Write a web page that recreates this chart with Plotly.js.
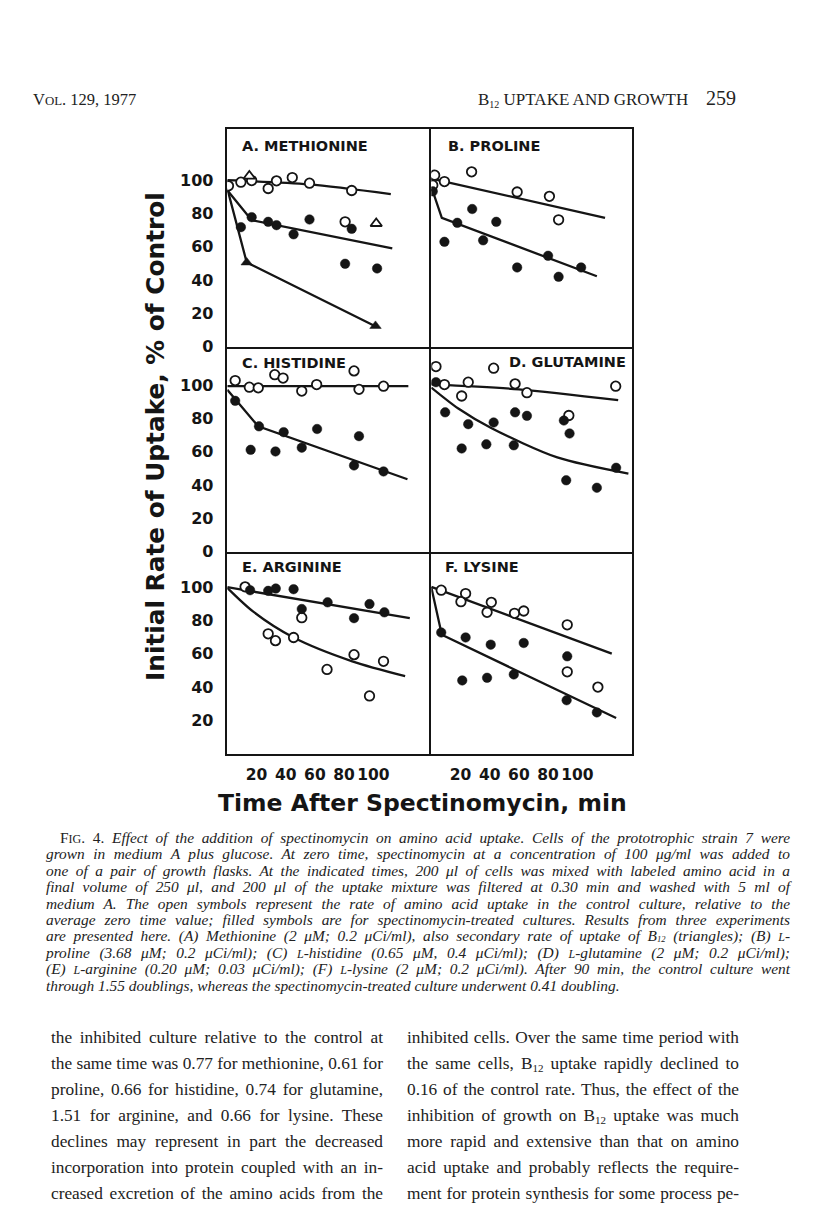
<!DOCTYPE html>
<html><head><meta charset="utf-8">
<script src="https://cdn.plot.ly/plotly-3.0.1.min.js"></script>
<style>
html,body{margin:0;padding:0;background:#fff;}
#page{position:relative;width:816px;height:1222px;overflow:hidden;background:#fff;}
#chart{position:absolute;left:0;top:0;width:816px;height:1222px;}
.hdr{position:absolute;font-family:"Liberation Serif",serif;color:#222;white-space:nowrap;line-height:20px;}
sub{line-height:0;vertical-align:-0.3em;}
#caption sub{vertical-align:-0.12em;}
#caption{position:absolute;left:46px;top:830px;width:744px;font-family:"Liberation Serif",serif;font-style:italic;font-size:15.4px;color:#222;}
#caption .ln{height:16.4px;line-height:16.4px;text-align:justify;text-align-last:justify;overflow:visible;}
#caption .ln.first{padding-left:14px;}
#caption .ln.last{text-align-last:left;}
.col{position:absolute;top:1025px;width:332px;font-family:"Liberation Serif",serif;font-size:17.3px;color:#222;}
.col .ln{height:26px;line-height:26px;text-align:justify;text-align-last:justify;}
.sc{font-size:0.78em;}
.up{font-style:normal;}
</style>
</head><body>
<div id="page">
<div id="chart"></div>
<div class="hdr" style="left:33px;top:90px;font-size:16.5px;">V<span class="sc">OL</span>. 129, 1977</div>
<div class="hdr" style="left:478px;top:90px;font-size:17px;">B<sub style="font-size:10px">12</sub> UPTAKE AND GROWTH</div>
<div class="hdr" style="left:706px;top:88px;font-size:20px;">259</div>
<div id="caption">
<div class="ln first"><span class="up">F<span class="sc">IG</span>. 4.</span> Effect of the addition of spectinomycin on amino acid uptake. Cells of the prototrophic strain 7 were</div>
<div class="ln">grown in medium A plus glucose. At zero time, spectinomycin at a concentration of 100 μg/ml was added to</div>
<div class="ln">one of a pair of growth flasks. At the indicated times, 200 μl of cells was mixed with labeled amino acid in a</div>
<div class="ln">final volume of 250 μl, and 200 μl of the uptake mixture was filtered at 0.30 min and washed with 5 ml of</div>
<div class="ln">medium A. The open symbols represent the rate of amino acid uptake in the control culture, relative to the</div>
<div class="ln">average zero time value; filled symbols are for spectinomycin-treated cultures. Results from three experiments</div>
<div class="ln">are presented here. (A) Methionine (2 μM; 0.2 μCi/ml), also secondary rate of uptake of B<sub style="font-size:8.5px">12</sub> (triangles); (B) <span class="sc">L</span>-</div>
<div class="ln">proline (3.68 μM; 0.2 μCi/ml); (C) <span class="sc">L</span>-histidine (0.65 μM, 0.4 μCi/ml); (D) <span class="sc">L</span>-glutamine (2 μM; 0.2 μCi/ml);</div>
<div class="ln">(E) <span class="sc">L</span>-arginine (0.20 μM; 0.03 μCi/ml); (F) <span class="sc">L</span>-lysine (2 μM; 0.2 μCi/ml). After 90 min, the control culture went</div>
<div class="ln last">through 1.55 doublings, whereas the spectinomycin-treated culture underwent 0.41 doubling.</div>
</div>
<div class="col" style="left:51px;">
<div class="ln">the inhibited culture relative to the control at</div>
<div class="ln">the same time was 0.77 for methionine, 0.61 for</div>
<div class="ln">proline, 0.66 for histidine, 0.74 for glutamine,</div>
<div class="ln">1.51 for arginine, and 0.66 for lysine. These</div>
<div class="ln">declines may represent in part the decreased</div>
<div class="ln">incorporation into protein coupled with an in-</div>
<div class="ln">creased excretion of the amino acids from the</div>
</div>
<div class="col" style="left:407px;">
<div class="ln">inhibited cells. Over the same time period with</div>
<div class="ln">the same cells, B<sub style="font-size:11px">12</sub> uptake rapidly declined to</div>
<div class="ln">0.16 of the control rate. Thus, the effect of the</div>
<div class="ln">inhibition of growth on B<sub style="font-size:11px">12</sub> uptake was much</div>
<div class="ln">more rapid and extensive than that on amino</div>
<div class="ln">acid uptake and probably reflects the require-</div>
<div class="ln">ment for protein synthesis for some process pe-</div>
</div>
</div>
<script>
// ---------- DATA (time in min, uptake in % of control) ----------
const timeTicks = [20, 40, 60, 80, 100];
const uptakeTicks = [0, 20, 40, 60, 80, 100];
const panelTitles = ["A. METHIONINE", "B. PROLINE", "C. HISTIDINE", "D. GLUTAMINE", "E. ARGININE", "F. LYSINE"];

// A. Methionine
const metControlT = [0.8, 9.3, 16.7, 28, 33.7, 44.5, 56.3, 80.7, 85.2];
const metControlV = [96.6, 98.8, 99.8, 95, 99.6, 101.6, 98.2, 75, 93.8];
const metTreatedT = [9.3, 16.7, 28, 33.7, 45.4, 56.3, 80.7, 85.2, 102.6];
const metTreatedV = [71.8, 77.8, 75, 73, 67.5, 76.4, 49.8, 70.8, 47];
const b12ControlT = [15.1, 102];
const b12ControlV = [102.5, 74];
const b12TreatedT = [13.3, 101.5];
const b12TreatedV = [50.6, 12.5];
const metControlFitT = [0, 56, 112];
const metControlFitV = [100, 97.5, 91.7];
const metTreatedFitT = [0, 16.7, 113];
const metTreatedFitV = [94, 76, 59];
const b12TreatedFitT = [0, 13.3, 100];
const b12TreatedFitV = [95, 50.6, 12.9];

// B. Proline
const proControlT = [1, 2.3, 9, 27.6, 58.8, 80.9, 87.2];
const proControlV = [97, 103, 99.2, 105, 92.9, 90.3, 76.2];
const proTreatedT = [1, 9, 17.8, 28, 35.5, 44.5, 58.8, 80, 87.2, 102.6];
const proTreatedV = [93.3, 63, 74.4, 82.7, 63.9, 75, 47.6, 54.6, 42, 47.6];
const proControlFitT = [0, 119];
const proControlFitV = [101, 77.4];
const proTreatedFitT = [0, 7.2, 113.4];
const proTreatedFitV = [96, 77.4, 42.3];

// C. Histidine
const hisControlT = [5.4, 15.1, 21.2, 32.5, 38.2, 51, 61.2, 86.8, 90.2, 107];
const hisControlV = [102.8, 98.8, 98.4, 106.3, 104.3, 96.5, 100.4, 108.6, 97.5, 99.4];
const hisTreatedT = [5.4, 16, 21.7, 33, 38.6, 51, 61.5, 86.8, 90.2, 107];
const hisTreatedV = [90.6, 61.2, 75.3, 60.2, 71.8, 62.5, 73.7, 51.8, 69.4, 48.2];
const hisControlFitT = [0, 124];
const hisControlFitV = [99.5, 99.5];
const hisTreatedFitT = [0, 21.2, 123.4];
const hisTreatedFitV = [97.2, 75.3, 43.5];

// D. Glutamine
const gluControlT = [3.2, 9, 20.8, 25.3, 42.7, 57.4, 65.5, 94.2, 126.3];
const gluControlV = [111.2, 100.4, 93.5, 101.8, 110.2, 100.8, 95.5, 81.8, 99.4];
const gluTreatedT = [3.2, 9.5, 20.8, 25.3, 37.7, 42.7, 56.5, 57.4, 65.5, 90.8, 94.7, 92.4, 113.4, 126.6];
const gluTreatedV = [101.8, 83.7, 62, 76.6, 64.5, 77.6, 63.9, 83.7, 81.6, 78.8, 71, 42.9, 38.4, 50.4];
const gluControlFitT = [0, 60, 128];
const gluControlFitV = [100.5, 97.5, 91];
const gluTreatedFitT = [0, 18.5, 41, 86.3, 135];
const gluTreatedFitV = [98.6, 86, 74.3, 56.6, 46.9];

// E. Arginine
const argControlT = [12.2, 28, 33, 45.4, 51, 68.3, 86.8, 97.4, 107];
const argControlV = [100.2, 72, 67.9, 69.8, 81.7, 50.6, 59.5, 34.7, 55.5];
const argTreatedT = [15.6, 28, 33.2, 45.4, 51, 68.7, 86.8, 97.4, 107.6];
const argTreatedV = [98.2, 97.8, 99.2, 98.8, 86.9, 90.9, 81.4, 89.9, 84.9];
const argControlFitT = [0, 17.8, 45.4, 85.6, 121.8];
const argControlFitV = [99.6, 85.3, 69.8, 55.5, 46.6];
const argTreatedFitT = [0, 125];
const argTreatedFitV = [100, 81.4];

// F. Lysine
const lysControlT = [6.8, 20.3, 23.5, 38.2, 41.1, 57, 63.3, 93.1, 93.1, 114.1];
const lysControlV = [98.2, 91.3, 96.2, 84.9, 90.9, 84.3, 85.7, 77.4, 49.2, 40];
const lysTreatedT = [6.8, 21.2, 23.5, 38.2, 40.7, 56.5, 63.3, 92.7, 93.1, 113.4];
const lysTreatedV = [72.8, 44, 69.8, 45.6, 65.5, 47.6, 66.5, 32.1, 58.5, 24.8];
const lysControlFitT = [0, 123.6];
const lysControlFitV = [100.2, 60.1];
const lysTreatedFitT = [0, 7.2, 126.6];
const lysTreatedFitV = [100, 71.4, 21.4];

// ---------- LAYOUT GEOMETRY ----------
const W = 816, H = 1222;
const fx = x => x / W, fy = y => 1 - y / H;
const LW = 2.6;                       // frame line width
const colLines = [226, 430, 633];     // vertical frame lines (px)
const rowLines = [128, 348, 553, 755]; // horizontal frame lines (px)
const pxPerUnitY = 1.665;
const pxPerUnitX = 1.46;
const INK = '#151515';

const traces = [];
function fit(t, v, n, shape) {
  traces.push({x: t, y: v, xaxis: 'x' + n, yaxis: 'y' + n, mode: 'lines', hoverinfo: 'skip',
    line: {color: INK, width: 2.3, shape: shape || 'linear', smoothing: 0.8}, showlegend: false});
}
function pts(t, v, n, symbol, open) {
  traces.push({x: t, y: v, xaxis: 'x' + n, yaxis: 'y' + n, mode: 'markers', hoverinfo: 'skip', showlegend: false,
    marker: {symbol: symbol, size: symbol.indexOf('triangle') === 0 ? 10 : 9.5,
      color: open ? '#ffffff' : INK, line: {color: INK, width: open ? 1.8 : 0.5}}});
}
// A
fit(metControlFitT, metControlFitV, 1, 'spline');
fit(metTreatedFitT, metTreatedFitV, 1);
fit(b12TreatedFitT, b12TreatedFitV, 1);
pts(metControlT, metControlV, 1, 'circle', true);
pts(metTreatedT, metTreatedV, 1, 'circle', false);
pts(b12ControlT, b12ControlV, 1, 'triangle-up', true);
pts(b12TreatedT, b12TreatedV, 1, 'triangle-up', false);
// B
fit(proControlFitT, proControlFitV, 2);
fit(proTreatedFitT, proTreatedFitV, 2);
pts(proControlT, proControlV, 2, 'circle', true);
pts(proTreatedT, proTreatedV, 2, 'circle', false);
// C
fit(hisControlFitT, hisControlFitV, 3);
fit(hisTreatedFitT, hisTreatedFitV, 3);
pts(hisControlT, hisControlV, 3, 'circle', true);
pts(hisTreatedT, hisTreatedV, 3, 'circle', false);
// D
fit(gluControlFitT, gluControlFitV, 4, 'spline');
fit(gluTreatedFitT, gluTreatedFitV, 4, 'spline');
pts(gluControlT, gluControlV, 4, 'circle', true);
pts(gluTreatedT, gluTreatedV, 4, 'circle', false);
// E
fit(argTreatedFitT, argTreatedFitV, 5);
fit(argControlFitT, argControlFitV, 5, 'spline');
pts(argControlT, argControlV, 5, 'circle', true);
pts(argTreatedT, argTreatedV, 5, 'circle', false);
// F
fit(lysControlFitT, lysControlFitV, 6);
fit(lysTreatedFitT, lysTreatedFitV, 6);
pts(lysControlT, lysControlV, 6, 'circle', true);
pts(lysTreatedT, lysTreatedV, 6, 'circle', false);

const tickFont = {family: 'DejaVu Sans', size: 15.5, color: INK, weight: 'bold'};
const layout = {
  width: W, height: H, margin: {l: 0, r: 0, t: 0, b: 0},
  paper_bgcolor: 'rgba(0,0,0,0)', plot_bgcolor: 'rgba(0,0,0,0)',
  showlegend: false, annotations: []
};
for (let i = 0; i < 6; i++) {
  const n = i + 1, c = i % 2, r = Math.floor(i / 2);
  const sfx = n === 1 ? '' : String(n);
  const x0 = colLines[c] + LW / 2, x1 = colLines[c + 1] - LW / 2;
  const yTop = rowLines[r] + LW / 2, yBot = rowLines[r + 1] - LW / 2;
  layout['xaxis' + sfx] = {
    domain: [fx(x0), fx(x1)], range: [0, (x1 - x0) / pxPerUnitX], anchor: 'y' + n,
    showline: true, mirror: true, linewidth: LW, linecolor: INK, showgrid: false, zeroline: false,
    ticks: '', tickvals: timeTicks, ticktext: timeTicks.map(String), tickangle: 0,
    showticklabels: r === 2, tickfont: tickFont, ticklabelstandoff: 5, fixedrange: true
  };
  const yt = r === 2 ? uptakeTicks.slice(1) : uptakeTicks;
  layout['yaxis' + sfx] = {
    domain: [fy(yBot), fy(yTop)], range: [0, (yBot - yTop) / pxPerUnitY], anchor: 'x' + n,
    showline: true, mirror: true, linewidth: LW, linecolor: INK, showgrid: false, zeroline: false,
    ticks: '', tickvals: yt, ticktext: yt.map(String), tickangle: 0,
    showticklabels: c === 0, tickfont: {family: 'DejaVu Sans', size: 16, color: INK, weight: 'bold'},
    ticklabelstandoff: 8, fixedrange: true
  };
}
// panel titles
const titlePos = [[240, 146, 'left'], [446, 146, 'left'], [240, 363, 'left'], [628, 362, 'right'], [240, 567, 'left'], [443, 567, 'left']];
panelTitles.forEach((t, i) => {
  layout.annotations.push({text: t, xref: 'paper', yref: 'paper', x: fx(titlePos[i][0]), y: fy(titlePos[i][1]),
    xanchor: titlePos[i][2], yanchor: 'middle', showarrow: false,
    font: {family: 'DejaVu Sans', size: 14.5, color: INK, weight: 'bold'}});
});
// axis titles
layout.annotations.push({text: 'Initial Rate of Uptake, % of Control', xref: 'paper', yref: 'paper',
  x: fx(155), y: fy(437), xanchor: 'center', yanchor: 'middle', textangle: -90, showarrow: false,
  font: {family: 'DejaVu Sans', size: 24.8, color: INK, weight: 'bold'}});
layout.annotations.push({text: 'Time After Spectinomycin, min', xref: 'paper', yref: 'paper',
  x: fx(422), y: fy(803), xanchor: 'center', yanchor: 'middle', showarrow: false,
  font: {family: 'DejaVu Sans', size: 23.5, color: INK, weight: 'bold'}});

Plotly.newPlot('chart', traces, layout, {staticPlot: true, displayModeBar: false});
</script>
</body></html>
